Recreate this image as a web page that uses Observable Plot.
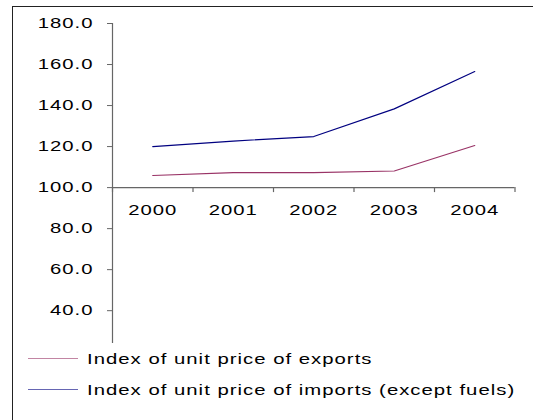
<!DOCTYPE html>
<html><head><meta charset="utf-8">
<script src="https://cdn.jsdelivr.net/npm/d3@7"></script>
<script src="https://cdn.jsdelivr.net/npm/@observablehq/plot@0.6"></script>
<style>
html,body{margin:0;padding:0;background:#fff;overflow:hidden;width:533px;height:420px;}
#frame{position:absolute;left:12px;top:6px;width:600px;height:500px;border-left:1.5px solid #222;border-top:1.5px solid #222;box-sizing:border-box;}
#wrap{position:absolute;left:0;top:0;width:533px;}
#legend{position:relative;font-family:"Liberation Sans",Arial,sans-serif;font-size:14px;color:#000;}
.row{position:absolute;left:0;height:20px;}
.sw{position:absolute;left:28px;width:50px;top:9px;height:0;border-top:1.5px solid;}
.lab{position:absolute;left:86.5px;top:1px;white-space:nowrap;transform:scaleX(1.45);transform-origin:0 50%;letter-spacing:0.7px;line-height:18px;}
</style></head>
<body>
<div id="frame"></div>
<div id="wrap"></div>
<script>
const years = [2000, 2001, 2002, 2003, 2004];
const exportsIdx = [105.9, 107.3, 107.3, 108.1, 120.5];
const importsIdx = [120.0, 122.7, 124.9, 138.4, 156.6];
const seriesNames = ["Index of unit price of exports", "Index of unit price of imports (except fuels)"];
const seriesColors = ["#993366", "#000080"];
const yTicks = [40, 60, 80, 100, 120, 140, 160, 180];
const yDomain = [24, 180];
const xBaseline = 100;

const data = [];
years.forEach((yr, i) => {
  data.push({year: yr, value: exportsIdx[i], series: seriesNames[0]});
  data.push({year: yr, value: importsIdx[i], series: seriesNames[1]});
});
const boundaries = [years[0] - 0.5, ...years.map(y => y + 0.5)];

const chart = Plot.plot({
  width: 533,
  height: 345,
  marginLeft: 112,
  marginRight: 18.5,
  marginTop: 23,
  marginBottom: 2,
  style: {fontFamily: "'Liberation Sans', Arial, sans-serif", fontSize: "14px", background: "transparent", color: "#000", overflow: "visible"},
  x: {type: "linear", domain: [boundaries[0], boundaries[boundaries.length - 1]], axis: null},
  y: {domain: yDomain, label: null},
  color: {domain: seriesNames, range: seriesColors},
  marks: [
    Plot.ruleX([boundaries[0]], {stroke: "#666", strokeWidth: 1.2}),
    Plot.ruleY([xBaseline], {stroke: "#666", strokeWidth: 1.2}),
    Plot.ruleX(boundaries, {x: d => d, y1: xBaseline, y2: xBaseline, insetBottom: -5, stroke: "#666", strokeWidth: 1.2}),
    Plot.axisY({ticks: yTicks, tickSize: 5, tickPadding: 14, tickFormat: d => d.toFixed(1), fontSize: 14, stroke: "#666", label: null}),
    Plot.text(years, {x: d => d, y: xBaseline, dy: 23, text: d => String(d), fontSize: 14, fill: "#000"}),
    Plot.line(data, {x: "year", y: "value", z: "series", stroke: "series", strokeWidth: 1.2})
  ]
});

chart.querySelectorAll("text").forEach(t => {
  const tr = t.getAttribute("transform") || "";
  t.setAttribute("transform", tr + " scale(1.45,1)");
  t.style.letterSpacing = "0.7px";
});

const wrap = document.getElementById("wrap");
wrap.appendChild(chart);

const legend = document.createElement("div");
legend.id = "legend";
const rowTops = [4, 35];
seriesNames.forEach((name, i) => {
  const row = document.createElement("div");
  row.className = "row";
  row.style.top = rowTops[i] + "px";
  const sw = document.createElement("div");
  sw.className = "sw";
  sw.style.borderColor = seriesColors[i];
  sw.style.opacity = "0.6";
  const lab = document.createElement("div");
  lab.className = "lab";
  lab.textContent = name;
  row.appendChild(sw);
  row.appendChild(lab);
  legend.appendChild(row);
});
wrap.appendChild(legend);
</script>
</body></html>
